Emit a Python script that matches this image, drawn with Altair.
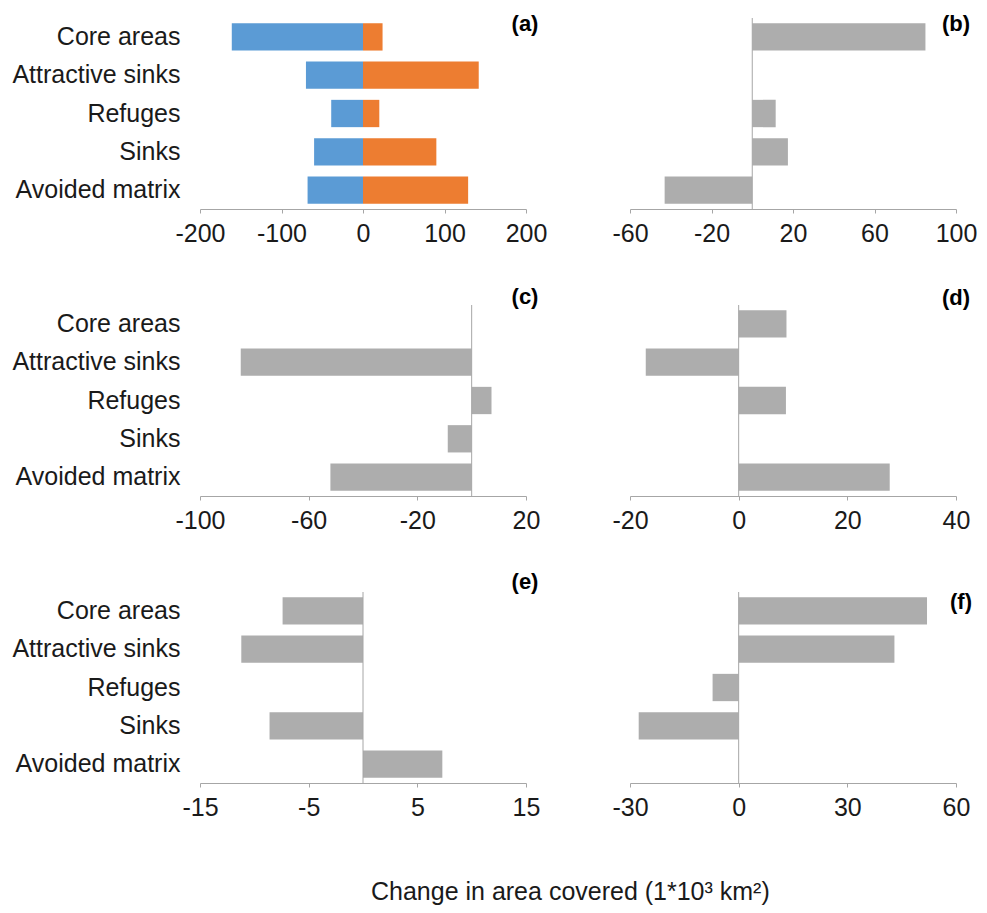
import altair as alt
import pandas as pd

categories = ["Core areas", "Attractive sinks", "Refuges", "Sinks", "Avoided matrix"]

a_loss = [-161, -70, -39, -60, -68]
a_gain = [24, 142, 20, 90, 129]
b_vals = [85, 0, 11.5, 17.5, -43]
c_vals = [0, -85, 7.3, -8.8, -52]
d_vals = [8.8, -17.1, 8.7, 0, 27.8]
e_vals = [-7.4, -11.2, 0, -8.6, 7.3]
f_vals = [52, 43, -7.2, -27.6, 0]

a_ticks = [-200, -100, 0, 100, 200]
b_ticks = [-60, -20, 20, 60, 100]
c_ticks = [-100, -60, -20, 20]
d_ticks = [-20, 0, 20, 40]
e_ticks = [-15, -5, 5, 15]
f_ticks = [-30, 0, 30, 60]

FONT = "Liberation Sans"
GRAY = "#adadad"
AXIS_GRAY = "#a6a6a6"
BLUE = "#5b9bd5"
ORANGE = "#ed7d31"
LW = 326
RW = 326
H = 191


def make_panel(values_list, series_names, colors, domain, ticks, label,
               label_dx, label_dy, width, show_y, zero_line):
    rows = []
    for sname, vals in zip(series_names, values_list):
        for cat, v in zip(categories, vals):
            rows.append({"category": cat, "series": sname, "value": v})
    df = pd.DataFrame(rows)
    if show_y:
        yaxis = alt.Axis(title=None, domain=False, ticks=False, labelFontSize=25,
                         labelFont=FONT, labelColor="#1a1a1a", labelPadding=20)
    else:
        yaxis = None
    xaxis = alt.Axis(values=ticks, title=None, grid=False, domainColor=AXIS_GRAY,
                     tickColor=AXIS_GRAY, tickSize=4, labelFontSize=25, labelFont=FONT,
                     labelColor="#1a1a1a", labelPadding=8, labelFlush=False,
                     labelOverlap=False,
                     labelExpr="datum.value < 0 ? '-' + abs(datum.value) : '' + datum.value")
    enc = dict(
        x=alt.X("value:Q", scale=alt.Scale(domain=domain, nice=False, zero=False),
                axis=xaxis, stack=None),
        x2=alt.datum(0),
        y=alt.Y("category:N", sort=categories,
                scale=alt.Scale(paddingInner=0.287, paddingOuter=0.137), axis=yaxis),
    )
    if len(series_names) > 1:
        enc["color"] = alt.Color("series:N",
                                 scale=alt.Scale(domain=series_names, range=colors),
                                 legend=None)
        bars = alt.Chart(df).mark_bar().encode(**enc)
    else:
        bars = alt.Chart(df).mark_bar(color=colors[0]).encode(**enc)
    layers = [bars]
    if zero_line:
        rule = alt.Chart(pd.DataFrame({"z": [0]})).mark_rule(
            color=AXIS_GRAY, strokeWidth=1).encode(x=alt.datum(0))
        layers.append(rule)
    txt = alt.Chart(pd.DataFrame({"label": [label]})).mark_text(
        font=FONT, fontSize=22, fontWeight="bold", color="#000000",
        align="center", baseline="middle").encode(
        x=alt.value(width + label_dx), y=alt.value(label_dy), text="label:N")
    layers.append(txt)
    return alt.layer(*layers).properties(width=width, height=H)


pa = make_panel([a_loss, a_gain], ["loss", "gain"], [BLUE, ORANGE], [-200, 200],
                a_ticks, "(a)", -1, 6, LW, True, False)
pb = make_panel([b_vals], ["change"], [GRAY], [-60, 100], b_ticks, "(b)", 0, 6,
                RW, False, True)
pc = make_panel([c_vals], ["change"], [GRAY], [-100, 20], c_ticks, "(c)", -1, -8,
                LW, True, True)
pd_ = make_panel([d_vals], ["change"], [GRAY], [-20, 40], d_ticks, "(d)", 0, -7,
                 RW, False, True)
pe = make_panel([e_vals], ["change"], [GRAY], [-15, 15], e_ticks, "(e)", -1, -10,
                LW, True, True)
pf = make_panel([f_vals], ["change"], [GRAY], [-30, 60], f_ticks, "(f)", 5, 10,
                RW, False, True)

chart = alt.concat(pa, pb, pc, pd_, pe, pf, columns=2,
                   spacing={"row": 96, "column": 104}, bounds="flush").properties(
    title=alt.TitleParams("Change in area covered (1*10\u00b3 km\u00b2)", orient="bottom",
                          anchor="middle", font=FONT, fontSize=25, fontWeight="normal",
                          color="#1a1a1a", offset=60, dx=76),
    padding={"top": 5, "left": 3, "right": 0, "bottom": 0},
).configure_view(stroke=None)

chart.save("out.html", embed_options={"renderer": "svg", "actions": False})
